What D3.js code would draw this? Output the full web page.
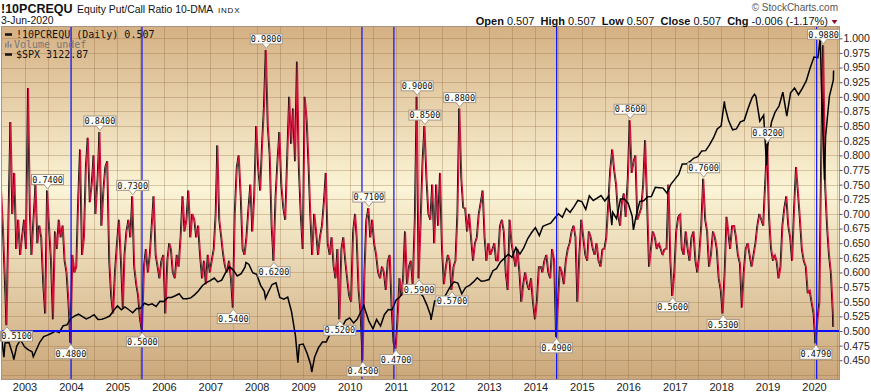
<!DOCTYPE html>
<html>
<head>
<meta charset="utf-8">
<script src="https://cdn.jsdelivr.net/npm/d3@7"></script>
<style>
  body { margin: 0; background: #fff; }
  svg { display: block; }
  text { white-space: pre; }
</style>
</head>
<body>
<svg id="chart"></svg>
<script>
const width = 871;
const height = 392;
const plot = {left: 2, right: 839, top: 27, bottom: 379};

// !10PCREQU 10-DMA, read on the 1st and 16th of every month from Jul 2002 to Jun 2020
const pcrValues = [
    0.75, 0.69, 0.60, 0.51, 0.70, 0.857, 0.70, 0.77, 0.64, 0.69,
    0.63, 0.66, 0.69, 0.64, 0.915, 0.70, 0.63, 0.69, 0.75, 0.65,
    0.68, 0.66, 0.58, 0.53, 0.74, 0.68, 0.62, 0.52, 0.67, 0.64,
    0.69, 0.66, 0.68, 0.62, 0.60, 0.55, 0.48, 0.63, 0.60, 0.61,
    0.72, 0.81, 0.63, 0.66, 0.78, 0.83, 0.72, 0.75, 0.80, 0.70,
    0.76, 0.84, 0.68, 0.74, 0.78, 0.79, 0.62, 0.56, 0.53, 0.60,
    0.65, 0.69, 0.62, 0.54, 0.63, 0.67, 0.69, 0.66, 0.73, 0.61,
    0.58, 0.56, 0.52, 0.50, 0.61, 0.64, 0.60, 0.63, 0.68, 0.73,
    0.63, 0.61, 0.59, 0.62, 0.63, 0.53, 0.62, 0.65, 0.64, 0.60,
    0.59, 0.63, 0.61, 0.66, 0.73, 0.67, 0.69, 0.74, 0.66, 0.70,
    0.69, 0.66, 0.68, 0.63, 0.59, 0.62, 0.58, 0.63, 0.60, 0.62,
    0.64, 0.70, 0.817, 0.69, 0.66, 0.63, 0.61, 0.60, 0.62, 0.59,
    0.54, 0.70, 0.78, 0.80, 0.73, 0.64, 0.63, 0.66, 0.71, 0.75,
    0.67, 0.73, 0.85, 0.78, 0.74, 0.82, 0.88, 0.98, 0.85, 0.80,
    0.68, 0.62, 0.73, 0.79, 0.84, 0.75, 0.71, 0.69, 0.80, 0.90,
    0.82, 0.88, 0.79, 0.96, 0.78, 0.70, 0.64, 0.90, 0.86, 0.78,
    0.70, 0.63, 0.70, 0.67, 0.63, 0.66, 0.68, 0.72, 0.77, 0.65,
    0.63, 0.66, 0.61, 0.59, 0.64, 0.52, 0.64, 0.66, 0.62, 0.59,
    0.56, 0.55, 0.67, 0.70, 0.66, 0.57, 0.53, 0.45, 0.60, 0.69,
    0.71, 0.66, 0.69, 0.65, 0.63, 0.60, 0.59, 0.61, 0.60, 0.57,
    0.62, 0.63, 0.54, 0.48, 0.47, 0.52, 0.59, 0.56, 0.59, 0.67,
    0.58, 0.61, 0.62, 0.58, 0.69, 0.90, 0.59, 0.68, 0.79, 0.85,
    0.76, 0.70, 0.69, 0.75, 0.65, 0.75, 0.68, 0.77, 0.64, 0.58,
    0.61, 0.63, 0.62, 0.57, 0.61, 0.62, 0.70, 0.88, 0.76, 0.71,
    0.71, 0.67, 0.70, 0.66, 0.62, 0.65, 0.66, 0.70, 0.72, 0.74,
    0.66, 0.62, 0.65, 0.63, 0.64, 0.65, 0.62, 0.62, 0.68, 0.69,
    0.67, 0.60, 0.57, 0.69, 0.65, 0.63, 0.61, 0.64, 0.60, 0.55,
    0.58, 0.60, 0.58, 0.57, 0.59, 0.55, 0.52, 0.55, 0.61, 0.61,
    0.60, 0.62, 0.63, 0.60, 0.59, 0.64, 0.62, 0.49, 0.55, 0.61,
    0.60, 0.58, 0.62, 0.64, 0.65, 0.67, 0.68, 0.66, 0.55, 0.63,
    0.69, 0.66, 0.63, 0.62, 0.67, 0.66, 0.64, 0.63, 0.65, 0.62,
    0.61, 0.64, 0.64, 0.66, 0.72, 0.775, 0.81, 0.775, 0.75, 0.70,
    0.68, 0.72, 0.735, 0.695, 0.76, 0.86, 0.77, 0.79, 0.80, 0.69,
    0.70, 0.71, 0.75, 0.826, 0.72, 0.61, 0.64, 0.67, 0.66, 0.64,
    0.65, 0.64, 0.63, 0.64, 0.64, 0.75, 0.62, 0.56, 0.60, 0.67,
    0.695, 0.70, 0.64, 0.63, 0.67, 0.64, 0.62, 0.66, 0.67, 0.62,
    0.60, 0.63, 0.68, 0.76, 0.69, 0.67, 0.61, 0.63, 0.67, 0.66,
    0.64, 0.59, 0.57, 0.53, 0.60, 0.695, 0.67, 0.64, 0.68, 0.68,
    0.66, 0.63, 0.615, 0.54, 0.60, 0.64, 0.65, 0.63, 0.61, 0.63,
    0.65, 0.68, 0.70, 0.69, 0.68, 0.75, 0.82, 0.695, 0.64, 0.62,
    0.63, 0.62, 0.59, 0.61, 0.68, 0.71, 0.73, 0.68, 0.66, 0.62,
    0.71, 0.78, 0.735, 0.69, 0.64, 0.62, 0.61, 0.565, 0.57, 0.55,
    0.53, 0.479, 0.52, 0.55, 0.80, 0.988, 0.75, 0.68, 0.63, 0.60,
    0.53
];
const pcrLastDate = new Date(2020, 5, 3);
const pcrLastValue = 0.507;
const pcrLegend = '!10PCREQU (Daily) 0.507';

// $SPX month-end closes Jun 2002 .. May 2020, drawn on the 1st of the following month
const spxMonthly = [
    990, 912, 916, 815, 886, 936, 880,
    856, 841, 848, 917, 964, 975, 990, 1008, 996, 1051, 1058, 1112,
    1131, 1145, 1126, 1107, 1121, 1141, 1102, 1104, 1115, 1130, 1174, 1212,
    1181, 1204, 1181, 1157, 1192, 1191, 1234, 1220, 1229, 1207, 1249, 1248,
    1280, 1281, 1295, 1311, 1270, 1270, 1277, 1304, 1336, 1378, 1401, 1418,
    1438, 1407, 1421, 1482, 1531, 1503, 1455, 1474, 1527, 1549, 1481, 1468,
    1379, 1331, 1323, 1386, 1400, 1280, 1267, 1283, 1166, 969, 896, 903,
    826, 735, 798, 873, 919, 919, 987, 1021, 1057, 1036, 1096, 1115,
    1074, 1104, 1169, 1187, 1089, 1031, 1102, 1049, 1141, 1183, 1181, 1258,
    1286, 1327, 1326, 1364, 1345, 1321, 1292, 1219, 1131, 1253, 1247, 1258,
    1312, 1366, 1408, 1398, 1310, 1362, 1379, 1407, 1441, 1412, 1416, 1426,
    1498, 1515, 1569, 1598, 1631, 1606, 1686, 1633, 1682, 1757, 1806, 1848,
    1783, 1859, 1872, 1884, 1924, 1960, 1931, 2003, 1972, 2018, 2068, 2059,
    1995, 2105, 2068, 2086, 2107, 2063, 2104, 1972, 1920, 2079, 2080, 2044,
    1940, 1932, 2060, 2065, 2097, 2099, 2174, 2171, 2168, 2126, 2199, 2239,
    2279, 2364, 2363, 2384, 2412, 2423, 2470, 2472, 2519, 2575, 2648, 2674,
    2824, 2714, 2641, 2648, 2705, 2718, 2816, 2902, 2914, 2712, 2760, 2507,
    2704, 2784, 2834, 2946, 2752, 2942, 2980, 2926, 2977, 3038, 3141, 3231,
    3226, 2954, 2585, 2912, 3044
];
// intra-month highs and lows of $SPX
const spxExtraDates = ['2002-07-23', '2002-10-09', '2003-03-11', '2007-10-09', '2008-03-10',
    '2008-11-20', '2009-03-09', '2010-04-23', '2010-07-02', '2011-10-03', '2015-08-25',
    '2016-02-11', '2018-01-26', '2018-09-20', '2018-12-24', '2020-02-19', '2020-03-23', '2020-06-03'];
const spxExtraValues = [797, 777, 800, 1565, 1273, 752, 676, 1217, 1022, 1099, 1867,
    1829, 2873, 2930, 2351, 3386, 2237, 3122.87];
const spxLegend = '$SPX 3122.87';

// annotated points (index in pcrValues) and whether the tag sits under the line
const annotIndex = [3, 24, 51, 68, 36, 73, 137, 141, 120, 175, 190, 187, 204,
    215, 219, 216, 233, 237, 287, 325, 347, 363, 373, 396, 421, 425];
const annotBelow = [1, 0, 0, 0, 1, 1, 0, 1, 1, 1, 0, 1, 1,
    0, 0, 1, 1, 0, 1, 0, 1, 0, 1, 0, 1, 0];

const blueLineDates = ['2004-01-02', '2005-07-13', '2010-04-08', '2010-12-15', '2014-06-17', '2020-01-22'];
const blueLevel = 0.5;

const yTicks = d3.range(18, 41).map(k => k * 0.025);
const gridLevels = d3.range(17, 41).map(k => k * 0.025);

const parseDate = d3.timeParse('%Y-%m-%d');
const pcrDate = i => new Date(2002, 6 + Math.floor(i / 2), i % 2 ? 16 : 1);

const pcrData = pcrValues.map((v, i) => ({date: pcrDate(i), value: v}));
pcrData.push({date: pcrLastDate, value: pcrLastValue});

const spxData = spxMonthly.map((v, i) => ({date: new Date(2002, 6 + i, 1), value: v}))
    .concat(spxExtraDates.map((d, i) => ({date: parseDate(d), value: spxExtraValues[i]})))
    .sort((a, b) => a.date - b.date);

const svg = d3.select('#chart')
    .attr('width', width)
    .attr('height', height)
    .style('font-family', '"Liberation Sans", Arial, sans-serif');

const x = d3.scaleTime()
    .domain([new Date(2003, 0, 1), new Date(2020, 0, 1)])
    .range([24.5, 814]);
const y = d3.scaleLinear().domain([0.5, 1.0]).range([331, 38.3]);
const ySpx = d3.scaleLinear().domain(d3.extent(spxData, d => d.value)).range([372, 38]);

const defs = svg.append('defs');
const grad = defs.append('linearGradient').attr('id', 'bg')
    .attr('x1', 0).attr('y1', 0).attr('x2', 0).attr('y2', 1);
grad.selectAll('stop')
    .data([[0, '#d5b184'], [0.46, '#fbf4d6'], [1, '#cba77a']])
    .enter().append('stop')
    .attr('offset', d => d[0])
    .attr('stop-color', d => d[1]);
defs.append('clipPath').attr('id', 'clip').append('rect')
    .attr('x', plot.left).attr('y', plot.top)
    .attr('width', plot.right - plot.left).attr('height', plot.bottom - plot.top);

svg.append('rect')
    .attr('x', plot.left).attr('y', plot.top)
    .attr('width', plot.right - plot.left).attr('height', plot.bottom - plot.top)
    .attr('fill', 'url(#bg)');

const inner = svg.append('g').attr('clip-path', 'url(#clip)');

// grid
inner.append('g').selectAll('line').data(gridLevels).enter().append('line')
    .attr('x1', plot.left).attr('x2', plot.right)
    .attr('y1', d => Math.round(y(d)) + 0.5).attr('y2', d => Math.round(y(d)) + 0.5)
    .attr('stroke', 'rgba(140,100,55,0.3)');
inner.append('g').selectAll('line')
    .data(d3.timeMonth.every(6).range(new Date(2002, 6, 1), new Date(2020, 7, 1)))
    .enter().append('line')
    .attr('y1', plot.top).attr('y2', plot.bottom)
    .attr('x1', d => Math.round(x(d)) + 0.5).attr('x2', d => Math.round(x(d)) + 0.5)
    .attr('stroke', 'rgba(140,100,55,0.3)');

const pcrLine = d3.line().x(d => x(d.date)).y(d => y(d.value));

inner.append('path').datum(pcrData)
    .attr('fill', 'none')
    .attr('stroke', '#111')
    .attr('stroke-width', 1)
    .attr('transform', 'translate(-0.9,0)')
    .attr('d', pcrLine);
inner.append('path').datum(pcrData)
    .attr('fill', 'none')
    .attr('stroke', '#d4103c')
    .attr('stroke-width', 1.2)
    .attr('d', pcrLine);

inner.append('path').datum(spxData)
    .attr('fill', 'none')
    .attr('stroke', '#000')
    .attr('stroke-width', 1.5)
    .attr('d', d3.line().x(d => x(d.date)).y(d => ySpx(d.value)));

// blue markers
inner.append('g').selectAll('line').data(blueLineDates).enter().append('line')
    .attr('x1', d => x(parseDate(d))).attr('x2', d => x(parseDate(d)))
    .attr('y1', plot.top).attr('y2', plot.bottom)
    .attr('stroke', '#0a10ff').attr('stroke-width', 1.2);
inner.append('line')
    .attr('x1', plot.left).attr('x2', plot.right)
    .attr('y1', y(blueLevel)).attr('y2', y(blueLevel))
    .attr('stroke', '#0a10ff').attr('stroke-width', 2.2);

// value tags (kept inside the picture at the left edge)
const tags = svg.append('g')
    .selectAll('g')
    .data(annotIndex.map((idx, k) => ({idx: idx, below: annotBelow[k]})))
    .enter().append('g')
    .attr('transform', d => `translate(${x(pcrData[d.idx].date)},${y(pcrData[d.idx].value)})`);
const tagShift = d => Math.max(0, 16.5 - x(pcrData[d.idx].date));
tags.append('rect')
    .attr('x', d => -16 + tagShift(d)).attr('y', d => d.below ? 6 : -16)
    .attr('width', 32).attr('height', 10)
    .attr('fill', '#fdfcf6').attr('stroke', '#a89888');
tags.append('path')
    .attr('d', d => d.below ? 'M-4,6.5L0,1.5L4,6.5' : 'M-4,-6.5L0,-1.5L4,-6.5')
    .attr('fill', '#fdfcf6').attr('stroke', '#a89888');
tags.append('text')
    .attr('x', tagShift)
    .attr('y', d => d.below ? 14.2 : -7.8)
    .attr('text-anchor', 'middle')
    .style('font-family', '"DejaVu Sans Mono", monospace')
    .style('font-size', '8.5px')
    .attr('fill', '#111')
    .text(d => d3.format('.4f')(pcrData[d.idx].value));

// border
svg.append('rect')
    .attr('x', plot.left - 0.5).attr('y', plot.top - 0.5)
    .attr('width', plot.right - plot.left + 1).attr('height', plot.bottom - plot.top + 1)
    .attr('fill', 'none').attr('stroke', '#a89486');

// axes
const yAxis = svg.append('g')
    .attr('transform', `translate(${plot.right + 0.5},0)`)
    .call(d3.axisRight(y).tickValues(yTicks).tickFormat(d3.format('.3f')).tickSize(3).tickPadding(1));
yAxis.select('.domain').remove();
yAxis.selectAll('line').attr('stroke', '#555');
yAxis.selectAll('text').style('font-size', '10.5px').style('font-family', '"Liberation Sans", Arial, sans-serif').attr('fill', '#222');

const xAxis = svg.append('g')
    .attr('transform', `translate(0,${plot.bottom})`)
    .call(d3.axisBottom(x)
        .tickValues(d3.timeYear.range(new Date(2003, 0, 1), new Date(2020, 0, 2)))
        .tickFormat(d3.timeFormat('%Y')).tickSize(0).tickPadding(4));
xAxis.select('.domain').remove();
xAxis.selectAll('text').style('font-size', '11px').style('font-family', '"Liberation Sans", Arial, sans-serif').attr('fill', '#222');

// legend
const legend = svg.append('g').style('font-family', '"DejaVu Sans Mono", monospace').style('font-size', '10px');
legend.append('line').attr('x1', 5).attr('x2', 12).attr('y1', 34.5).attr('y2', 34.5).attr('stroke', '#111').attr('stroke-width', 2.5);
legend.append('text').attr('x', 16).attr('y', 38).attr('fill', '#111').text(pcrLegend);
legend.append('g').selectAll('rect').data([[5, 43], [7.5, 41], [10, 44]]).enter().append('rect')
    .attr('x', d => d[0]).attr('y', d => d[1]).attr('width', 1.6).attr('height', d => 47.5 - d[1])
    .attr('fill', '#888');
legend.append('text').attr('x', 14).attr('y', 48).attr('fill', '#777').text('Volume undef');
legend.append('line').attr('x1', 5).attr('x2', 12).attr('y1', 54.5).attr('y2', 54.5).attr('stroke', '#111').attr('stroke-width', 2.5);
legend.append('text').attr('x', 16).attr('y', 58).attr('fill', '#111').text(spxLegend);

// header
svg.append('text').attr('x', 1).attr('y', 13).style('font-size', '12.5px').style('font-weight', 'bold').attr('fill', '#111').text('!10PCREQU');
svg.append('text').attr('x', 77).attr('y', 12.5).style('font-size', '10.4px').attr('fill', '#111').text('Equity Put/Call Ratio 10-DMA');
svg.append('text').attr('x', 218).attr('y', 12.5).style('font-size', '8px').style('letter-spacing', '0.8px').attr('fill', '#111').text('INDX');
svg.append('text').attr('x', 1).attr('y', 24).style('font-size', '10.4px').attr('fill', '#111').text('3-Jun-2020');
svg.append('text').attr('x', 838).attr('y', 11).attr('text-anchor', 'end').style('font-size', '10px').attr('fill', '#555').text('\u00a9 StockCharts.com');

const quote = svg.append('text').attr('x', 828).attr('y', 24.5).attr('text-anchor', 'end').style('font-size', '11px').attr('fill', '#111');
[['Open', ' 0.507  '], ['High', ' 0.507  '], ['Low', ' 0.507  '], ['Close', ' 0.507  '], ['Chg', ' -0.006 (-1.17%)']]
    .forEach(p => {
        quote.append('tspan').style('font-weight', 'bold').text(p[0]);
        quote.append('tspan').text(p[1]);
    });
svg.append('path').attr('d', 'M831.5,20L837.5,20L834.5,24Z').attr('fill', '#8a0b2b');
</script>
</body>
</html>
